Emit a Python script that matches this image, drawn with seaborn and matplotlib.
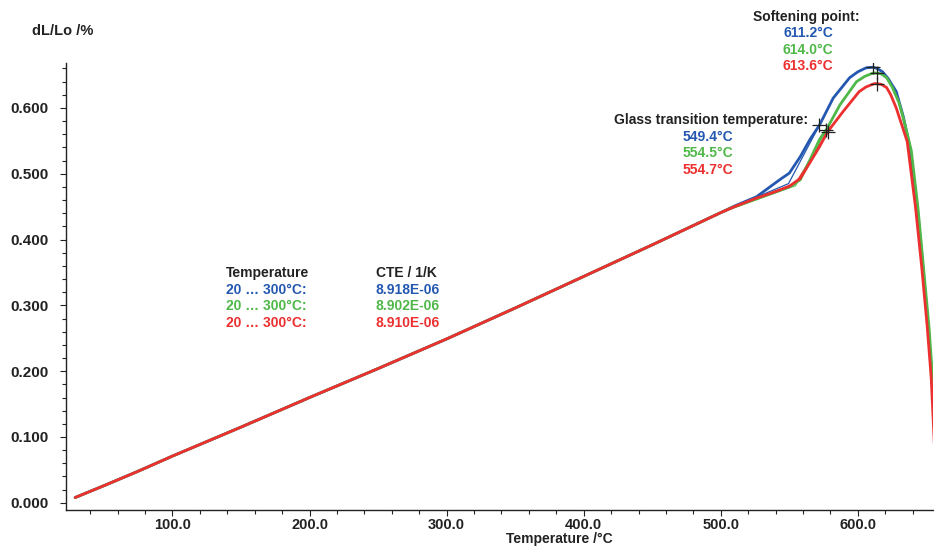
import numpy as np
import pandas as pd
import matplotlib
matplotlib.use("Agg")
import matplotlib.pyplot as plt
from matplotlib.ticker import MultipleLocator, FormatStrFormatter
import seaborn as sns

# --- measurement data -------------------------------------------------------
# common linear expansion range (all three runs coincide here)
temp_base = [29, 50, 75, 100, 150, 200, 250, 300, 350, 400, 450, 500]
dl_base = [0.008, 0.026, 0.048, 0.071, 0.115, 0.160, 0.204, 0.249, 0.296, 0.344, 0.392, 0.441]

temp_blue = [510, 526, 543, 550, 558, 565, 572, 582, 594, 600, 606, 611.2, 614, 618, 622, 628, 633, 638, 643, 647, 651, 654, 656]
dl_blue = [0.451, 0.465, 0.491, 0.501, 0.526, 0.552, 0.574, 0.615, 0.646, 0.655, 0.661, 0.662, 0.660, 0.655, 0.645, 0.625, 0.588, 0.540, 0.455, 0.370, 0.275, 0.190, 0.130]

temp_green = [510, 526, 538, 550, 558, 565, 572, 577, 587, 599, 605, 611, 614, 617, 621, 625, 630, 634, 639, 644, 648, 652, 655, 657]
dl_green = [0.450, 0.462, 0.471, 0.480, 0.491, 0.521, 0.552, 0.567, 0.605, 0.640, 0.648, 0.653, 0.653, 0.652, 0.646, 0.632, 0.608, 0.578, 0.535, 0.445, 0.355, 0.265, 0.175, 0.115]

temp_red = [510, 526, 540, 550, 558, 563, 572, 578, 589, 601, 606, 612, 613.6, 617, 621, 624, 628, 636, 642, 646.5, 650.5, 653.5, 656]
dl_red = [0.450, 0.463, 0.473, 0.481, 0.493, 0.510, 0.541, 0.564, 0.594, 0.625, 0.632, 0.637, 0.637, 0.636, 0.631, 0.620, 0.600, 0.549, 0.450, 0.360, 0.270, 0.190, 0.080]

runs = ["blue", "green", "red"]
colors = {"blue": "#2458b0", "green": "#4fb848", "red": "#ec2f2f"}

# glass transition (tangent intersection) and softening point
tg_temp = [549.4, 554.5, 554.7]
tg_dl = [0.485, 0.482, 0.486]
tangent_start_temp = [505, 500, 500]
tangent_start_dl = [0.446, 0.441, 0.441]
tangent_end_temp = [572, 577, 578]
tangent_end_dl = [0.574, 0.567, 0.564]
soft_temp = [611.2, 614.0, 613.6]
soft_dl = [0.662, 0.653, 0.637]

cte_range = ["20 … 300°C:", "20 … 300°C:", "20 … 300°C:"]
cte_values = ["8.918E-06", "8.902E-06", "8.910E-06"]

# --- tidy frames ------------------------------------------------------------
curve_rows = []
for run, t_hi, d_hi in zip(runs, [temp_blue, temp_green, temp_red], [dl_blue, dl_green, dl_red]):
    for t, d in zip(temp_base + t_hi, dl_base + d_hi):
        curve_rows.append({"run": run, "T": t, "dL": d})
curves = pd.DataFrame(curve_rows)

tangent_rows = []
for i, run in enumerate(runs):
    pts = [(tangent_start_temp[i], tangent_start_dl[i]), (tg_temp[i], tg_dl[i]),
           (tangent_end_temp[i], tangent_end_dl[i])]
    for t, d in pts:
        tangent_rows.append({"run": run, "T": t, "dL": d})
tangents = pd.DataFrame(tangent_rows)

marks = pd.DataFrame({
    "T": tangent_end_temp + soft_temp,
    "dL": tangent_end_dl + soft_dl,
})

# --- figure -----------------------------------------------------------------
sns.set_theme(style="ticks")
plt.rcParams["font.family"] = ["Liberation Sans", "DejaVu Sans"]
plt.rcParams["font.weight"] = "bold"

fig = plt.figure(figsize=(9.34, 5.47), dpi=100)
ax = fig.add_axes([0.0702, 0.0676, 0.929, 0.818])

sns.lineplot(data=tangents, x="T", y="dL", hue="run", palette=colors, sort=False,
             estimator=None, units="run", linewidth=0.9, legend=False, ax=ax)
sns.lineplot(data=curves, x="T", y="dL", hue="run", palette=colors, sort=False,
             estimator=None, linewidth=2.0, legend=False, ax=ax)
sns.scatterplot(data=marks, x="T", y="dL", marker="+", color="#222222", s=90,
                linewidth=0.9, legend=False, ax=ax, zorder=5)

ax.set_xlim(22, 655)
ax.set_ylim(-0.011, 0.669)
ax.xaxis.set_major_locator(MultipleLocator(100))
ax.xaxis.set_minor_locator(MultipleLocator(20))
ax.yaxis.set_major_locator(MultipleLocator(0.1))
ax.yaxis.set_minor_locator(MultipleLocator(0.02))
ax.xaxis.set_major_formatter(FormatStrFormatter("%.1f"))
ax.yaxis.set_major_formatter(FormatStrFormatter("%.3f"))
ax.tick_params(which="both", direction="out", width=0.8, color="#222222",
               labelsize=10.5, labelcolor="#222222")
ax.tick_params(axis="x", which="both", pad=1.5)
ax.tick_params(axis="y", which="both", pad=8)
ax.tick_params(which="major", length=4)
ax.tick_params(which="minor", length=3)
for lbl in ax.get_xticklabels() + ax.get_yticklabels():
    lbl.set_fontweight("bold")
for lbl in ax.get_yticklabels():
    lbl.set_fontsize(11)

sns.despine(ax=ax)
for side in ("left", "bottom"):
    ax.spines[side].set_linewidth(1.0)
    ax.spines[side].set_color("#222222")

ax.set_xlabel("")
ax.set_ylabel("")

W, H = 934, 547
def ftext(x, y, s, color="#222222", ha="center", size=10):
    fig.text(x / W, 1 - y / H, s, color=color, ha=ha, va="center",
             fontsize=size, fontweight="bold")

ftext(63, 31, "dL/Lo /%", size=10.5)
ftext(559, 539, "Temperature /°C")

ftext(806, 17, "Softening point:")
for i, run in enumerate(runs):
    ftext(808, 33 + 16.5 * i, f"{soft_temp[i]:.1f}°C", color=colors[run])

ftext(808, 120, "Glass transition temperature:", ha="right")
for i, run in enumerate(runs):
    ftext(708, 137 + 16.5 * i, f"{tg_temp[i]:.1f}°C", color=colors[run])

ftext(226, 273, "Temperature", ha="left")
ftext(376, 273, "CTE / 1/K", ha="left")
for i, run in enumerate(runs):
    ftext(226, 290 + 16.5 * i, cte_range[i], color=colors[run], ha="left")
    ftext(376, 290 + 16.5 * i, cte_values[i], color=colors[run], ha="left")

fig.savefig("out.png", dpi=100)
